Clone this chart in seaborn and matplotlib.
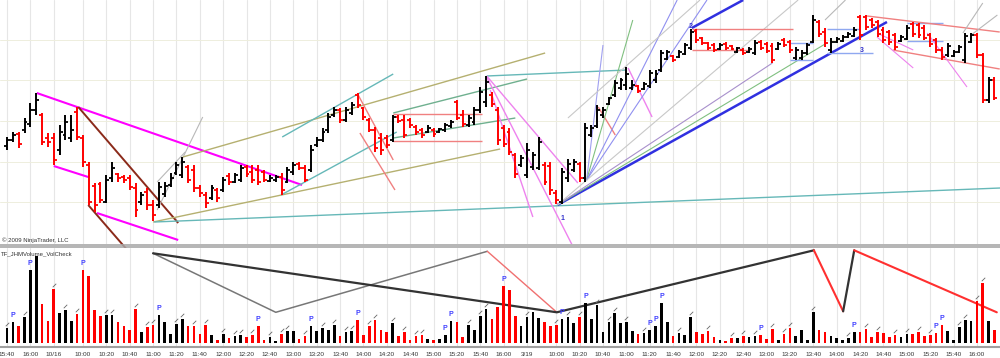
import numpy as np
import pandas as pd
import matplotlib
matplotlib.use("Agg")
import matplotlib.pyplot as plt
import seaborn as sns
from matplotlib.path import Path
from matplotlib.lines import Line2D

# ---------------- data ----------------
bar_dir = ("kkrkkkrrrkkkrrrrrkkrrrrkrrkkkkkrrrrkrkrkkr"
           "rrrkkrkkrrkkkkkrkkrrrrrrkrrrrrkrkkkrrkkkkrr"
           "rrrkkkkrrrkkkrkkkkkkkkkrkkkkkrkkkrrrrkrrkrk"
           "krrrkrrkkkkrrkkkkkrrrrrrrkkrrrrrrkkkkkrrkr")
high = [113,118,118,132,147,157,137,117,117,125,135,135,143,115,88,67,68,75,88,77,75,75,67,58,62,50,68,68,77,88,93,85,85,65,58,65,62,73,77,77,85,85,
        85,85,80,75,75,77,83,88,88,85,105,113,122,137,143,142,143,148,157,143,132,123,117,115,135,135,135,132,125,122,125,122,122,127,130,150,140,135,143,163,174,158,143,
        125,122,97,95,107,98,113,88,88,60,82,91,91,88,127,125,145,143,153,170,172,183,170,165,168,180,180,200,200,195,200,207,221,221,213,208,207,207,208,205,203,202,203,
        210,210,208,207,208,212,210,203,200,207,235,230,222,212,213,215,218,223,235,235,232,230,223,220,217,215,225,228,227,225,217,212,203,207,200,205,217,217,217,197,173,173]
low = [100,108,102,117,123,135,105,103,85,95,110,108,110,83,45,38,47,47,68,68,67,60,33,45,40,29,42,53,63,75,72,67,58,53,42,50,48,58,65,67,68,73,
       67,65,68,68,68,55,67,75,80,68,78,103,108,117,133,127,128,135,142,130,118,98,95,102,108,127,112,122,115,112,117,113,117,118,122,130,123,123,125,137,143,143,105,
       103,95,72,83,72,80,80,65,55,46,46,68,78,68,68,113,122,132,145,153,160,160,160,157,160,162,167,178,190,188,192,195,200,207,205,200,198,200,200,200,197,195,197,
       195,200,197,187,200,203,197,190,190,195,207,213,203,197,207,208,212,213,210,220,222,213,207,205,200,208,210,213,212,210,203,197,190,193,193,197,187,207,192,147,147,150]
open_ = [104,110,116,120,126,140,135,112,112,100,115,112,138,112,85,64,66,48,72,76,73,72,62,48,58,45,45,56,65,77,75,83,80,62,55,52,60,60,74,68,70,83,
         78,80,78,69,70,73,68,78,86,82,80,105,110,120,135,140,130,137,155,142,130,120,112,112,110,133,130,130,123,120,118,120,118,120,124,148,135,125,128,140,148,155,140,
         122,118,95,85,75,83,82,85,84,57,48,72,80,86,72,115,124,135,146,155,162,165,162,164,161,164,170,180,191,194,193,196,202,219,212,207,205,201,206,204,198,200,198,
         197,208,206,204,201,210,208,192,192,197,208,228,218,200,208,209,213,214,233,233,230,228,220,218,215,209,211,226,225,222,215,210,200,195,194,198,190,208,215,195,150,170]
close = [110,115,106,128,140,150,108,108,90,118,128,120,113,88,48,45,50,70,82,72,70,63,40,55,45,35,63,64,72,85,88,70,62,57,47,62,52,70,68,75,82,76,
         70,68,70,72,73,60,80,85,82,70,100,110,118,133,140,130,140,145,145,133,120,102,100,105,133,129,115,125,118,115,122,116,121,125,128,132,126,132,140,158,168,146,110,
         106,98,76,92,100,95,108,68,60,50,78,86,88,72,122,122,140,140,152,167,170,176,165,159,166,177,176,197,198,190,198,205,218,210,207,202,200,205,202,201,202,197,201,
         207,202,199,190,206,205,200,200,197,205,230,216,207,208,211,213,216,220,215,223,225,216,210,208,203,213,222,216,215,212,206,200,193,204,198,203,214,215,195,150,170,152]
volume = [15,21,17,26,73,87,39,22,54,30,33,22,29,73,67,33,27,28,28,21,17,13,34,11,16,18,28,21,9,19,24,17,17,9,18,8,3,9,5,7,8,6,
          8,17,3,6,2,9,12,12,4,7,17,12,15,13,18,7,11,12,23,8,17,23,13,11,20,7,11,3,7,8,4,3,4,8,22,21,6,18,13,27,34,24,36,
          57,53,27,17,26,31,25,21,17,18,24,26,20,26,40,24,38,11,21,30,20,21,12,9,10,13,17,40,21,7,10,8,26,11,9,12,6,3,2,5,5,7,6,
          7,8,4,14,3,9,15,7,13,3,31,13,11,7,5,3,5,11,11,14,6,11,10,6,8,6,9,9,11,7,8,10,18,12,3,16,23,22,42,60,22,13]
p_bars = [1,4,13,26,43,52,60,75,76,85,95,99,110,111,112,129,145,159,160]
flag_bars = [0,3,8,10,12,17,18,22,24,25,29,30,32,34,37,39,40,42,45,47,48,51,54,56,58,59,62,63,66,68,70,71,79,81,82,
             89,94,96,98,101,103,104,106,109,115,117,120,124,126,128,131,133,134,138,144,147,149,152,154,156,158,163,164,166,167]

tick_bars = [0,4,8,13,17,21,25,29,33,37,41,45,49,53,57,61,65,69,73,77,81,85,89,94,98,102,106,110,114,118,122,126,130,134,138,142,146,150,154,158,162,166]
tick_labels = ["15:40","16:00","10/16","10:00","10:20","10:40","11:00","11:20","11:40","12:00","12:20","12:40","13:00","13:20",
               "13:40","14:00","14:20","14:40","15:00","15:20","15:40","16:00","3/19","10:00","10:20","10:40","11:00","11:20",
               "11:40","12:00","12:20","12:40","13:00","13:20","13:40","14:00","14:20","14:40","15:00","15:20","15:40","16:00"]
price_grid = [210,170,129,88,48]

# drawing-tool lines on the price panel (bar index, price)
tl_x0 = [5.1,8.0,15.4,12.2,13.9,25.7,25.7,30.1,25.0,25.2,82.1,47.1,46.9,66.1,66.1,66.1,66.1,60.1,60.4,82.1,82.7,82.1,106.3,101.2,
         94.2,117.2,99.2,99.2,99.2,99.2,94.2,94.2,94.2,96.0,
         117.2,117.2,134.0,134.0,140.3,140.3,154.0,154.0,147.2,151.6,148.9,148.9,157.5,140.0,163.6,165.0]
tl_p0 = [157,84,37,143,45,68,40,93,28,28,174,113,55,137,112,136,109,155,117,173,160,174,182,143,
         45,222,70,70,70,70,45,45,45,132,
         221,200,207,190,221,197,227,209,234,200,217,213,217,230,217,215]
tl_x1 = [50.5,13.9,29.3,29.3,23.4,30.5,33.5,92.1,84.4,170.0,106.1,66.1,66.7,89.0,87.0,81.3,81.3,66.1,66.4,96.9,90.0,97.7,110.4,104.1,
         150.6,126.0,102.0,107.1,114.7,119.8,140.3,131.0,135.4,118.6,
         134.5,127.2,137.9,137.9,146.0,148.2,160.2,160.2,169.9,169.9,155.1,155.1,164.3,143.5,167.0,169.5]
tl_p1 = [65,73,10,27,-19,98,133,197,101,62,180,176,118,171,132,136,109,90,60,3,33,67,133,115,
         228,250,205,230,250,250,207,187,250,250,
         221,200,207,190,221,197,227,209,218,181,200,182,163,250,247,235]
tl_col = ["#ff00ff","#ff00ff","#ff00ff","#8b2a1a","#8b2a1a","#b8b8b8","#b8b8b8","#b5b070","#b5b070","#66b8b8","#66b8b8","#66b8b8","#66b8b8",
          "#6fb08f","#6fb08f","#f08080","#f08080","#f08080","#f08080","#ee82ee","#ee82ee","#ee82ee","#ee82ee","#f08080",
          "#3030e0","#3030e0","#a0a0f0","#80c080","#9090f0","#9090f0","#80c080","#a890cc","#c8c8c8","#c8c8c8",
          "#f08080","#f08080","#8fa8f0","#8fa8f0","#8fa8f0","#8fa8f0","#8fa8f0","#8fa8f0","#f08080","#f08080","#ee82ee","#ee82ee","#ee82ee",
          "#b8b8b8","#b8b8b8","#b8b8b8"]
tl_lw = [1.5,1.5,1.5,1.4,1.4,0.8,0.8,1.0,1.0,1.0,1.0,1.0,1.0,1.0,1.0,1.0,1.0,1.0,1.0,1.0,1.0,1.0,1.0,1.0,
         1.8,1.8,0.8,0.8,0.8,0.8,0.8,0.8,0.8,0.8,
         1.0,1.0,1.0,1.0,1.0,1.0,1.0,1.0,1.0,1.0,0.8,0.8,0.8,0.8,0.8,0.8]

# swing lines in the volume panel (bar index, volume units)
sw_gray_x = [25.0,46.0,82.2]
sw_gray_v = [90,31,92]
sw_pink_x = [82.2,94.1]
sw_pink_v = [92,31]
sw_dark_x = [25.0,94.1,138.1]
sw_dark_v = [90,31,93]
sw_red1_x = [138.1,143.1]
sw_red1_v = [93,32]
sw_dark2_x = [143.1,145.0]
sw_dark2_v = [32,93]
sw_red2_x = [145.0,169.4]
sw_red2_v = [93,31]

# ---------------- figure ----------------
sns.set_style("white")
plt.rcParams["font.family"] = ["Liberation Sans", "DejaVu Sans"]

W, H = 1000, 358
fig = plt.figure(figsize=(W/100, H/100), dpi=100)
fig.patch.set_facecolor("white")
ax_p = fig.add_axes([0, 1-244/H, 1, 244/H])
ax_v = fig.add_axes([0, 1-347/H, 1, 99/H])

xlim = (-7/5.843, (W-7)/5.843)
for ax in (ax_p, ax_v):
    ax.set_facecolor("white")
    for s in ax.spines.values():
        s.set_visible(False)
    for t in tick_bars:
        ax.axvline(t, color="#e6e6e6", lw=0.8, zorder=0)

# price panel
n = len(high)
idx = np.arange(n)
cols = np.where(np.array(list(bar_dir)) == "k", "#000000", "#ff0000")
for g in price_grid:
    ax_p.axhline(g, color="#eeeedd", lw=0.7, zorder=0)
for i in range(len(tl_x0)):
    ax_p.plot([tl_x0[i], tl_x1[i]], [tl_p0[i], tl_p1[i]], color=tl_col[i], lw=tl_lw[i],
              zorder=1, clip_on=(tl_p1[i] >= 0), solid_capstyle="butt")
ax_p.vlines(idx, low, high, colors=cols, lw=1.4, zorder=3)
ax_p.hlines(open_, idx-0.5, idx, colors=cols, lw=1.3, zorder=3)
ax_p.hlines(close, idx, idx+0.5, colors=cols, lw=1.3, zorder=3)
ax_p.set_xlim(*xlim)
ax_p.set_ylim(6, 250)
ax_p.set_xticks([]); ax_p.set_yticks([])
ax_p.text(95, 31, "1", color="#3333cc", fontsize=5, fontweight="bold", ha="center", va="center")
ax_p.text(117, 224, "2", color="#3333cc", fontsize=5, fontweight="bold", ha="center", va="center")
ax_p.text(146.3, 200, "3", color="#3333cc", fontsize=5, fontweight="bold", ha="center", va="center")

# volume panel
df = pd.DataFrame({"bar": idx, "volume": volume,
                   "dir": ["up" if c == "k" else "down" for c in bar_dir]})
sns.barplot(data=df, x="bar", y="volume", hue="dir",
            palette={"up": "#000000", "down": "#ff0000"}, native_scale=True,
            width=0.45, dodge=False, legend=False, saturation=1, errorbar=None,
            linewidth=0, ax=ax_v, zorder=3)
ax_v.plot(sw_gray_x, sw_gray_v, color="#777777", lw=1.1, zorder=2)
ax_v.plot(sw_pink_x, sw_pink_v, color="#f07070", lw=1.0, zorder=2)
ax_v.plot(sw_dark_x, sw_dark_v, color="#333333", lw=1.6, zorder=2)
ax_v.plot(sw_red1_x, sw_red1_v, color="#ff3030", lw=1.5, zorder=2)
ax_v.plot(sw_dark2_x, sw_dark2_v, color="#333333", lw=1.6, zorder=2)
ax_v.plot(sw_red2_x, sw_red2_v, color="#ff3030", lw=1.5, zorder=2, clip_on=False)
vol = np.array(volume)
flag_marker = Path([(-1, -1), (1, 1)], [Path.MOVETO, Path.LINETO])
ax_v.plot(np.array(flag_bars), vol[flag_bars] + 4, ls="none", marker=flag_marker,
          ms=2.5, mec="#666666", mew=0.6, zorder=4)
for b in p_bars:
    ax_v.text(b, vol[b] + 3, "P", color="#4040ff", fontsize=5, fontweight="bold",
              ha="center", va="bottom", zorder=4)
ax_v.set_xlim(*xlim)
ax_v.set_ylim(-3.7, 95.3)
ax_v.set_yticks([])
ax_v.set_xticks(tick_bars)
ax_v.set_xticklabels(tick_labels, fontsize=4.6, color="#333333")
ax_v.tick_params(axis="x", length=2, width=0.6, color="#888888", pad=1.5)
ax_v.set_xlabel(""); ax_v.set_ylabel("")
ax_v.spines["bottom"].set_visible(True)
ax_v.spines["bottom"].set_color("#a0a0a0")
ax_v.spines["bottom"].set_linewidth(1.5)

# panel separator and captions
for yy in (244.6, 247.2):
    fig.add_artist(Line2D([0, 1], [1-yy/H, 1-yy/H], color="#a8a8a8", lw=1.2))
fig.text(2/W, 1-240.5/H, "\u00a9 2009 NinjaTrader, LLC", fontsize=4.3, color="#333333", va="center")
fig.text(1/W, 1-254/H, "TF_JHMVolume_VolCheck", fontsize=4.3, color="#333333", va="center")

fig.savefig("out.png", dpi=100, facecolor="white")
